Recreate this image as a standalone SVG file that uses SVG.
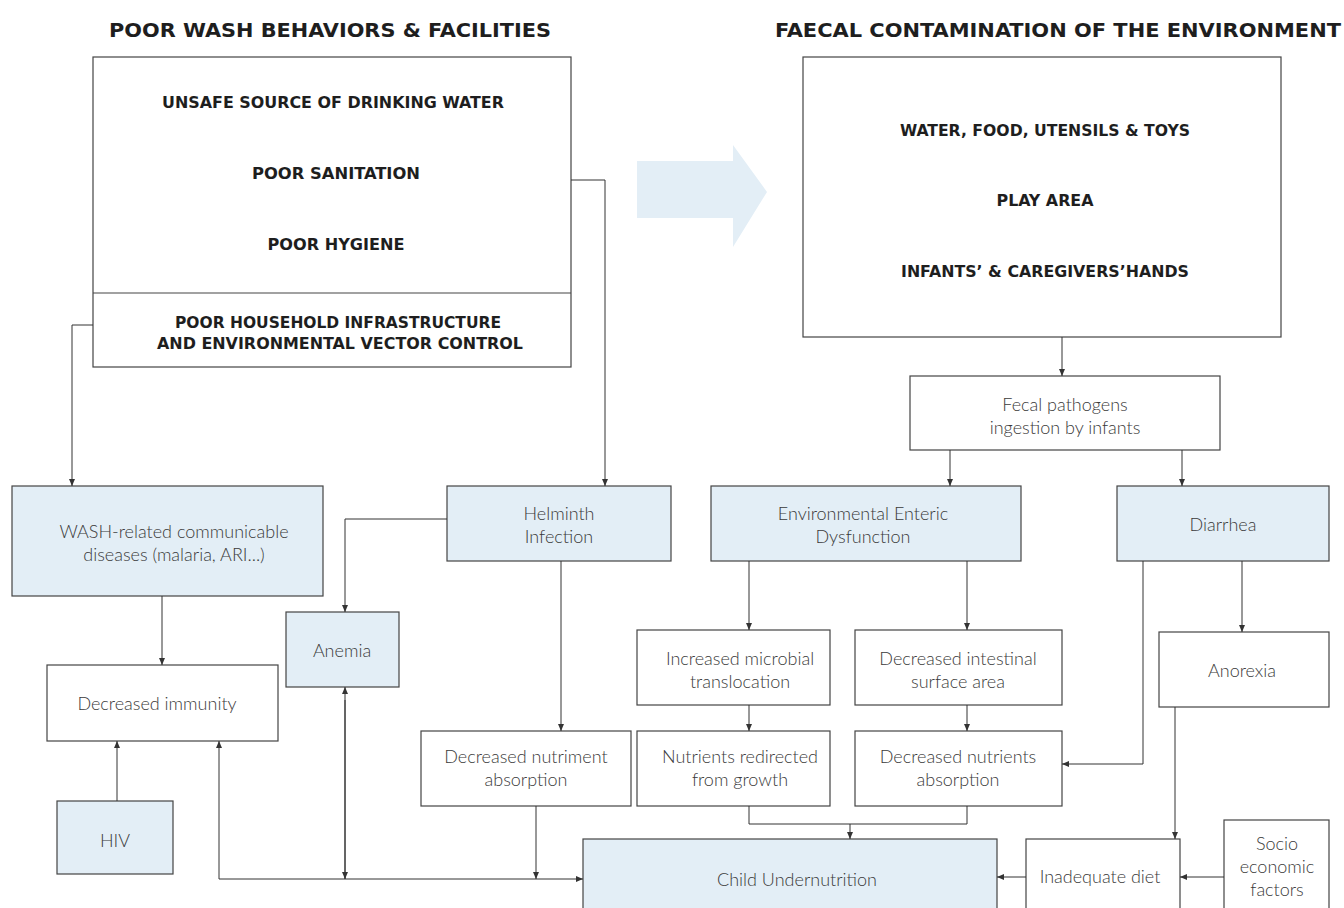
<svg xmlns="http://www.w3.org/2000/svg" width="1344" height="908" viewBox="0 0 1344 908">
<style>
.bx{fill:#fff;stroke:#444;stroke-width:1.2}
.bl{fill:#e3eef6;stroke:#444;stroke-width:1.2}
.h{font-family:"DejaVu Sans Condensed","DejaVu Sans","Liberation Sans",sans-serif;font-weight:bold;fill:#1e1e1e;text-anchor:middle}
.t{font-family:Lato,"Open Sans",sans-serif;font-weight:300;font-size:18px;fill:#3a3a3a;text-anchor:middle}
.c{fill:none;stroke:#333;stroke-width:1}
</style>
<defs>
<marker id="a" markerWidth="8" markerHeight="8" refX="7" refY="4" orient="auto" markerUnits="userSpaceOnUse">
<path d="M0,1 L7,4 L0,7 Z" fill="#333"/>
</marker>
</defs>
<rect width="1344" height="908" fill="#fff"/>

<text class="h" x="330" y="37" font-size="20" textLength="442" lengthAdjust="spacingAndGlyphs">POOR WASH BEHAVIORS &amp; FACILITIES</text>
<text class="h" x="1058" y="37" font-size="20" textLength="566" lengthAdjust="spacingAndGlyphs">FAECAL CONTAMINATION OF THE ENVIRONMENT</text>

<polygon points="637,161 733,161 733,145 767,192 733,247 733,218 637,218" fill="#e3eef6"/>

<g id="wash">
<rect class="bx" x="93" y="57" width="478" height="310"/>
<line x1="93" y1="293" x2="571" y2="293" stroke="#444" stroke-width="1.2"/>
<text class="h" x="333" y="108" font-size="15" textLength="342" lengthAdjust="spacingAndGlyphs">UNSAFE SOURCE OF DRINKING WATER</text>
<text class="h" x="336" y="179" font-size="15" textLength="168" lengthAdjust="spacingAndGlyphs">POOR SANITATION</text>
<text class="h" x="336" y="250" font-size="15" textLength="137" lengthAdjust="spacingAndGlyphs">POOR HYGIENE</text>
<text class="h" x="338" y="328" font-size="15" textLength="326" lengthAdjust="spacingAndGlyphs">POOR HOUSEHOLD INFRASTRUCTURE</text>
<text class="h" x="340" y="349" font-size="15" textLength="366" lengthAdjust="spacingAndGlyphs">AND ENVIRONMENTAL VECTOR CONTROL</text>
</g>

<g id="faecal">
<rect class="bx" x="803" y="57" width="478" height="280"/>
<text class="h" x="1045" y="136" font-size="15" textLength="290" lengthAdjust="spacingAndGlyphs">WATER, FOOD, UTENSILS &amp; TOYS</text>
<text class="h" x="1045" y="206" font-size="15" textLength="97" lengthAdjust="spacingAndGlyphs">PLAY AREA</text>
<text class="h" x="1045" y="277" font-size="15" textLength="288" lengthAdjust="spacingAndGlyphs">INFANTS’ &amp; CAREGIVERS’HANDS</text>
</g>

<g id="fecal">
<rect class="bx" x="910" y="376" width="310" height="74"/>
<text class="t" x="1065" y="411">Fecal pathogens</text>
<text class="t" x="1065" y="434">ingestion by infants</text>
</g>

<g id="washdis">
<rect class="bl" x="12" y="486" width="311" height="110"/>
<text class="t" x="174" y="538">WASH-related communicable</text>
<text class="t" x="174" y="561">diseases (malaria, ARI...)</text>
</g>

<g id="helminth">
<rect class="bl" x="447" y="486" width="224" height="75"/>
<text class="t" x="559" y="520">Helminth</text>
<text class="t" x="559" y="543">Infection</text>
</g>

<g id="eed">
<rect class="bl" x="711" y="486" width="310" height="75"/>
<text class="t" x="863" y="520">Environmental Enteric</text>
<text class="t" x="863" y="543">Dysfunction</text>
</g>

<g id="diarrhea">
<rect class="bl" x="1117" y="486" width="212" height="75"/>
<text class="t" x="1223" y="531">Diarrhea</text>
</g>

<g id="immunity">
<rect class="bx" x="47" y="665" width="231" height="76"/>
<text class="t" x="157" y="710">Decreased immunity</text>
</g>

<g id="anemia">
<rect class="bl" x="286" y="612" width="113" height="75"/>
<text class="t" x="342" y="657">Anemia</text>
</g>

<g id="nutriment">
<rect class="bx" x="421" y="731" width="210" height="75"/>
<text class="t" x="526" y="763">Decreased nutriment</text>
<text class="t" x="526" y="786">absorption</text>
</g>

<g id="microbial">
<rect class="bx" x="637" y="630" width="193" height="75"/>
<text class="t" x="740" y="665">Increased microbial</text>
<text class="t" x="740" y="688">translocation</text>
</g>

<g id="intestinal">
<rect class="bx" x="855" y="630" width="207" height="75"/>
<text class="t" x="958" y="665">Decreased intestinal</text>
<text class="t" x="958" y="688">surface area</text>
</g>

<g id="redirected">
<rect class="bx" x="637" y="731" width="193" height="75"/>
<text class="t" x="740" y="763">Nutrients redirected</text>
<text class="t" x="740" y="786">from growth</text>
</g>

<g id="nutrients">
<rect class="bx" x="855" y="731" width="207" height="75"/>
<text class="t" x="958" y="763">Decreased nutrients</text>
<text class="t" x="958" y="786">absorption</text>
</g>

<g id="anorexia">
<rect class="bx" x="1159" y="632" width="170" height="75"/>
<text class="t" x="1242" y="677">Anorexia</text>
</g>

<g id="hiv">
<rect class="bl" x="57" y="801" width="116" height="73"/>
<text class="t" x="115" y="847">HIV</text>
</g>

<g id="child">
<rect class="bl" x="583" y="839" width="414" height="75"/>
<text class="t" x="797" y="886">Child Undernutrition</text>
</g>

<g id="diet">
<rect class="bx" x="1026" y="839" width="154" height="75"/>
<text class="t" x="1100" y="883">Inadequate diet</text>
</g>

<g id="socio">
<rect class="bx" x="1224" y="820" width="105" height="94"/>
<text class="t" x="1277" y="850">Socio</text>
<text class="t" x="1277" y="873">economic</text>
<text class="t" x="1277" y="896">factors</text>
</g>

<g id="connectors">
<path class="c" d="M571,180 H605 V486" marker-end="url(#a)"/>
<path class="c" d="M93,325 H72 V486" marker-end="url(#a)"/>
<path class="c" d="M1062,337 V376" marker-end="url(#a)"/>
<path class="c" d="M950,450 V486" marker-end="url(#a)"/>
<path class="c" d="M1182,450 V486" marker-end="url(#a)"/>
<path class="c" d="M162,596 V665" marker-end="url(#a)"/>
<path class="c" d="M447,519 H345 V612" marker-end="url(#a)"/>
<path class="c" d="M561,561 V731" marker-end="url(#a)"/>
<path class="c" d="M749,561 V630" marker-end="url(#a)"/>
<path class="c" d="M967,561 V630" marker-end="url(#a)"/>
<path class="c" d="M749,705 V731" marker-end="url(#a)"/>
<path class="c" d="M967,705 V731" marker-end="url(#a)"/>
<path class="c" d="M1143,561 V764 H1062" marker-end="url(#a)"/>
<path class="c" d="M1242,561 V632" marker-end="url(#a)"/>
<path class="c" d="M1175,707 V839" marker-end="url(#a)"/>
<path class="c" d="M1224,877 H1180" marker-end="url(#a)"/>
<path class="c" d="M1026,877 H997" marker-end="url(#a)"/>
<path class="c" d="M749,806 V824 H967 V806"/>
<path class="c" d="M850,824 V839" marker-end="url(#a)"/>
<path class="c" d="M117,801 V741" marker-end="url(#a)"/>
<path class="c" d="M219,879 V741" marker-end="url(#a)"/>
<path class="c" d="M219,879 H583" marker-end="url(#a)"/>
<path class="c" d="M345,879 V687" marker-end="url(#a)"/>
<path class="c" d="M345,700 V879" marker-end="url(#a)"/>
<path class="c" d="M536,806 V879" marker-end="url(#a)"/>
</g>
</svg>
